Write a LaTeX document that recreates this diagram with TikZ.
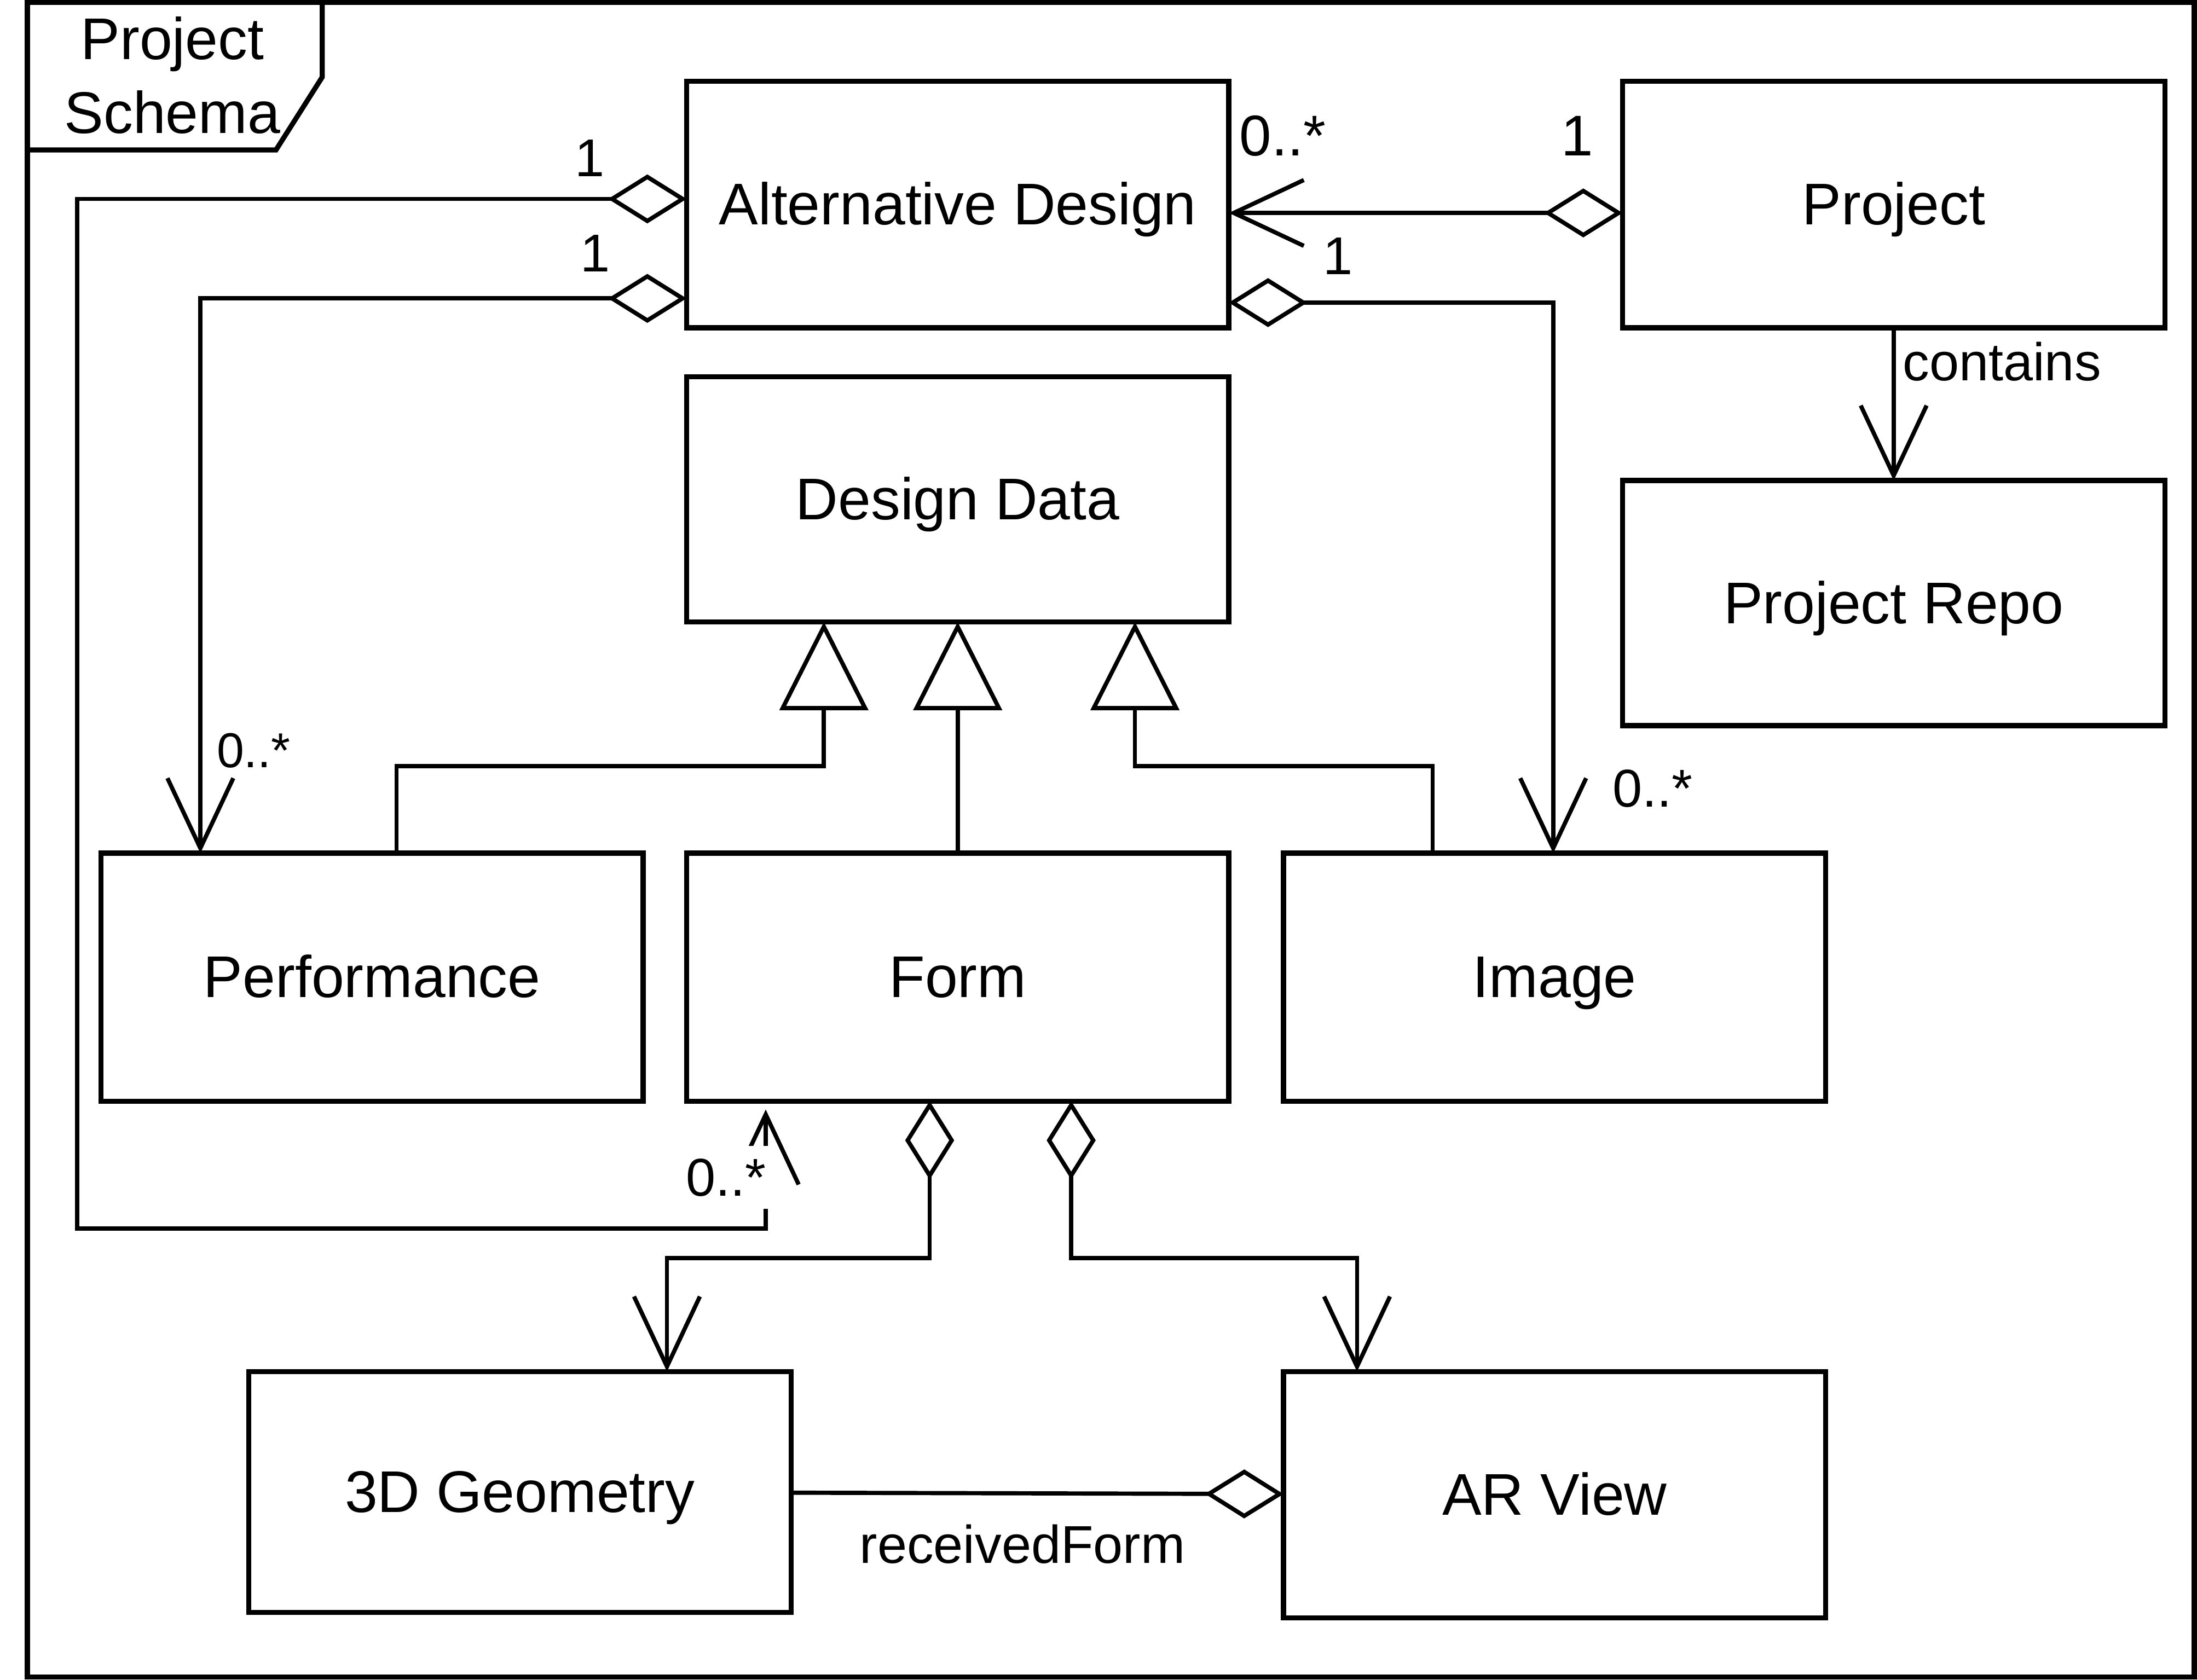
\documentclass[tikz,border=0pt]{standalone}
\usepackage{fontspec}
\setmainfont{Liberation Sans}
\usetikzlibrary{positioning,arrows.meta}

\begin{document}
\begin{tikzpicture}[
  x=1pt, y=-1pt,
  font=\fontsize{42}{50}\selectfont,
  cls/.style={draw, line width=3.6pt, outer sep=0pt, inner sep=0pt,
              text height=38pt, text depth=9pt,
              minimum width=387pt, minimum height=176pt},
  mult/.style={font=\fontsize{38}{44}\selectfont, inner sep=1pt},
  ln/.style={line width=3pt},
  agg/.style={ln, {Diamond[open,length=56pt,width=35pt]}-{Straight Barb[length=50pt,width=47pt]}},
  nav/.style={ln, -{Straight Barb[length=50pt,width=47pt]}},
  gen/.style={ln, -{Triangle[open,length=63pt,width=63pt]}},
  shr/.style={ln, {Diamond[open,length=56pt,width=35pt]}-},
]
  \useasboundingbox (0,0) rectangle (1568,1199);

  % frame
  \draw[line width=3.6pt] (19.5,1.8) rectangle (1566,1197);
  \draw[line width=3.6pt] (19.5,107) -- (197,107) -- (230,55) -- (230,1.8);
  \node[align=center, font=\fontsize{42}{52.5}\selectfont] (fr) at (123,53.7) {Project\\Schema};

  % classes
  \node[cls] (altd) at (683.5,146) {Alternative Design};
  \node[cls, right=281pt of altd] (proj) {Project};
  \node[cls, below=109pt of proj, minimum height=175pt] (repo) {Project Repo};
  \node[cls, below=35pt of altd, minimum height=175pt] (dd) {Design Data};
  \node[cls, below=165pt of dd, minimum height=177pt] (form) {Form};
  \node[cls, left=31pt of form, minimum height=177pt] (perf) {Performance};
  \node[cls, right=39pt of form, minimum height=177pt] (img) {Image};
  \node[cls, below=193pt of img] (arv) {AR View};
  \node[cls, minimum height=172pt] (geo) at (371,1065) {3D Geometry};

  % aggregations
  \draw[agg] ([yshift=-6pt]proj.west) -- ([yshift=-6pt]altd.east);
  \draw[agg] ([yshift=4pt]altd.west) -| (55,877) -| ([xshift=-137pt,yshift=-6pt]form.south);
  \draw[agg] ([yshift=-67pt]altd.west) -| ([xshift=-122.5pt]perf.north);
  \draw[agg] ([yshift=-70pt]altd.east) -| ([xshift=-1pt]img.north);
  \draw[agg] ([xshift=-20pt]form.south) -- ++(0,112) -| ([xshift=105pt]geo.north);
  \draw[agg] ([xshift=81pt]form.south) -- ++(0,112) -| ([xshift=-141pt]arv.north);
  \draw[shr] (arv) -- node[pos=.53, below=20pt, mult] (rf) {receivedForm} (geo);
  \draw[nav] (proj) -- node[pos=.22, right=4pt, mult] (ct) {contains} (repo);

  % generalizations
  \draw[gen] ([xshift=17.5pt]perf.north) |- (588,547) -- ([xshift=-95.5pt]dd.south);
  \draw[gen] (form) -- (dd);
  \draw[gen] ([xshift=-87pt]img.north) |- (810,547) -- ([xshift=126.5pt]dd.south);

  % multiplicities
  \node[mult, font=\fontsize{41}{48}\selectfont] (m1) at (915.5,97) {0..*};
  \node[mult, font=\fontsize{41}{48}\selectfont] (m2) at (1125.5,97) {1};
  \node[mult] (m3) at (955,183) {1};
  \node[mult] (m4) at (421,113) {1};
  \node[mult] (m5) at (425,181) {1};
  \node[mult, font=\fontsize{35}{42}\selectfont] (m6) at (181,536) {0..*};
  \node[mult] (m7) at (1179.5,563) {0..*};
  \node[mult, fill=white, inner xsep=3pt, inner ysep=9pt] (m8) at (518,840.5) {0..*};
\end{tikzpicture}
\end{document}
